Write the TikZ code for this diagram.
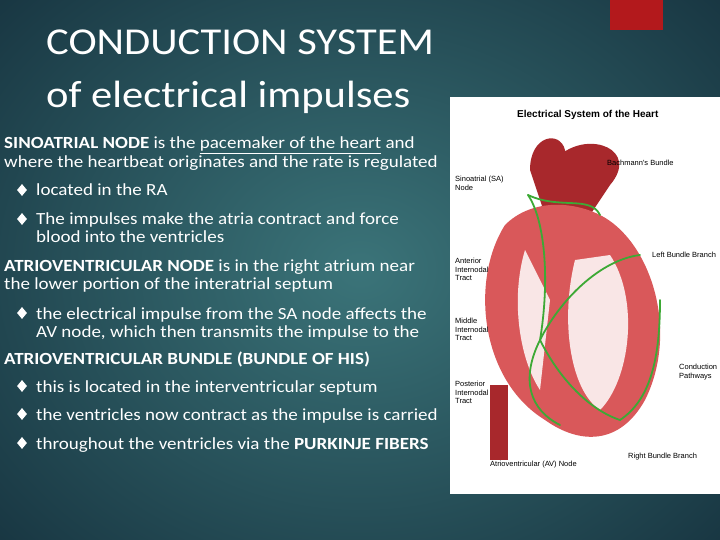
\documentclass[tikz,border=0pt]{standalone}
\usepackage{fontspec}
\setmainfont{Carlito}[FakeStretch=1.12]
\newfontfamily\lab{Liberation Sans}
\usetikzlibrary{shapes.geometric}
\definecolor{bgc}{HTML}{3B7479}
\definecolor{bge}{HTML}{173440}
\definecolor{redbar}{HTML}{B3191C}
\definecolor{heart}{HTML}{D9585A}
\definecolor{heartd}{HTML}{A8282C}
\definecolor{gline}{HTML}{3DA935}
\tikzset{
 body/.style={anchor=base west,text=white,font=\fontsize{17}{20}\selectfont,inner sep=0pt,align=left},
 bul/.style={diamond,fill=white,inner sep=0pt,minimum width=10pt,minimum height=12pt},
 hl/.style={anchor=north west,font=\lab\fontsize{7.5}{8.5}\selectfont,align=left,inner sep=0pt},
 pth/.style={gline,line width=1.8pt,line cap=round}
}
\begin{document}
\begin{tikzpicture}[x=1pt,y=-1pt]
\useasboundingbox (0,0) rectangle (720,540);
\shade[inner color=bgc,outer color=bge] (-150,-150) rectangle (870,690);
\fill[redbar] (610,0) rectangle (663,30) coordinate (rb);
% title
\node[anchor=base west,text=white,font=\fontsize{38}{40}\selectfont,inner sep=0pt] (t1) at (46,55) {CONDUCTION SYSTEM};
\node[anchor=base west,text=white,font=\fontsize{38}{40}\selectfont,inner sep=0pt] (t2) at (46,108) {of electrical impulses};
% body
\node[body] (l1) at (4,149) {\textbf{SINOATRIAL NODE} is the \underline{pacemaker of the heart} and};
\node[body] (l2) at (4,168) {where the heartbeat originates and the rate is regulated};
\node[bul] (b1) at (22,190) {}; \node[body] (l3) at (36,196) {located in the RA};
\node[bul] (b2) at (22,219) {}; \node[body] (l4) at (36,225) {The impulses make the atria contract and force};
\node[body] (l5) at (36,243) {blood into the  ventricles};
\node[body] (l6) at (4,271) {\textbf{ATRIOVENTRICULAR NODE} is in the right atrium near};
\node[body] (l7) at (4,289) {the lower portion of the interatrial septum};
\node[bul] (b3) at (22,313) {}; \node[body] (l8) at (36,319) {the electrical impulse from the SA node affects the};
\node[body] (l9) at (36,337) {AV node, which then transmits the impulse to the};
\node[body] (l10) at (4,364) {\textbf{ATRIOVENTRICULAR BUNDLE (BUNDLE OF HIS)}};
\node[bul] (b4) at (22,386) {}; \node[body] (l11) at (36,392) {this is located in the interventricular septum};
\node[bul] (b5) at (22,414) {}; \node[body] (l12) at (36,420) {the ventricles now contract as the impulse is carried};
\node[bul] (b6) at (22,443) {}; \node[body] (l13) at (36,449) {throughout the ventricles via the \textbf{PURKINJE FIBERS}};
% image
\fill[white] (450,97) rectangle (720,494);
\node[anchor=north west,font=\lab\bfseries\fontsize{10}{11}\selectfont,inner sep=0pt] (it) at (517,110) {Electrical System of the Heart};
% heart simplified
\fill[heartd] (490,385) rectangle (508,460);
\fill[heartd] (530,170) .. controls (530,135) and (560,130) .. (565,150) -- (570,215) -- (545,215) -- cycle;
\fill[heartd] (560,155) .. controls (590,130) and (640,150) .. (610,185) -- (590,215) -- (565,215) -- cycle;
\fill[heart] (505,225) .. controls (470,280) and (480,380) .. (545,420)
  .. controls (580,445) and (620,445) .. (645,400)
  .. controls (680,330) and (650,240) .. (600,215)
  .. controls (570,200) and (530,200) .. (505,225) -- cycle;
\fill[white!85!heart] (525,250) .. controls (510,300) and (520,360) .. (540,390) -- (550,300) -- cycle;
\fill[white!85!heart] (575,260) .. controls (560,320) and (570,390) .. (600,410) .. controls (630,380) and (640,300) .. (610,255) -- cycle;
\draw[pth] (528,195) .. controls (545,220) and (550,280) .. (540,340);
\draw[pth] (528,195) .. controls (560,210) and (590,195) .. (600,215);
\draw[pth] (540,340) .. controls (560,300) and (600,260) .. (640,255);
\draw[pth] (540,340) .. controls (560,380) and (590,410) .. (620,420) .. controls (650,400) and (660,360) .. (660,300);
\draw[pth] (540,340) .. controls (520,380) and (530,410) .. (560,425);
% labels
\node[hl] (a1) at (455,176) {Sinoatrial (SA)\\Node};
\node[hl] (a2) at (607,160) {Bachmann's Bundle};
\node[hl] (a3) at (652,252) {Left Bundle Branch};
\node[hl] (a4) at (455,258) {Anterior\\Internodal\\Tract};
\node[hl] (a5) at (455,318) {Middle\\Internodal\\Tract};
\node[hl] (a6) at (679,364) {Conduction\\Pathways};
\node[hl] (a7) at (455,381) {Posterior\\Internodal\\Tract};
\node[hl] (a8) at (490,461) {Atrioventricular (AV) Node};
\node[hl] (a9) at (628,453) {Right Bundle Branch};
\end{tikzpicture}
\end{document}
